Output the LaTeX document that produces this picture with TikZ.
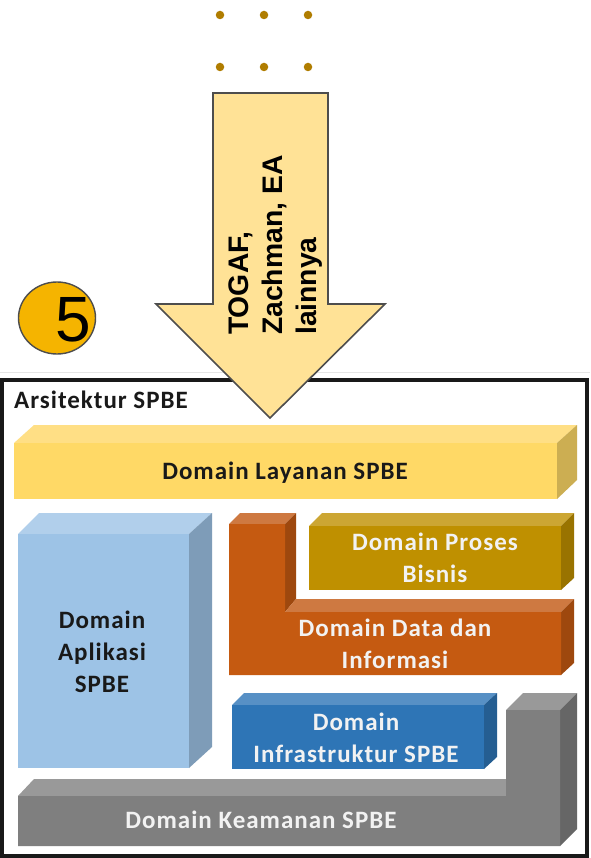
\documentclass[tikz,border=0pt]{standalone}
\usepackage{fontspec}
\usetikzlibrary{shapes.geometric}
\setmainfont{Liberation Sans}
\newfontfamily\calib[LetterSpace=4]{Carlito}
\definecolor{dotc}{HTML}{B07D00}
\definecolor{arrowf}{HTML}{FFE296}
\definecolor{edgec}{HTML}{4D4D4D}
\definecolor{circf}{HTML}{F5B400}
\definecolor{layF}{HTML}{FFD966}\definecolor{layT}{HTML}{FFDF85}\definecolor{layS}{HTML}{CCAE52}
\definecolor{aplF}{HTML}{9DC3E6}\definecolor{aplT}{HTML}{B1CFEB}\definecolor{aplS}{HTML}{7E9CB8}
\definecolor{datF}{HTML}{C55A11}\definecolor{datT}{HTML}{CE7941}\definecolor{datS}{HTML}{9E480E}
\definecolor{proF}{HTML}{BF9000}\definecolor{proT}{HTML}{CCA633}\definecolor{proS}{HTML}{997300}
\definecolor{infF}{HTML}{2E75B6}\definecolor{infT}{HTML}{5790C5}\definecolor{infS}{HTML}{255E92}
\definecolor{keaF}{HTML}{7F7F7F}\definecolor{keaT}{HTML}{999999}\definecolor{keaS}{HTML}{666666}
\tikzset{
  dotmark/.style={circle,fill=dotc,inner sep=0pt,minimum size=8.5pt},
  blocklabel/.style={font=\calib\bfseries\fontsize{25}{32}\selectfont,align=center,inner sep=0pt},
  darktext/.style={blocklabel,text=black!90},
  lighttext/.style={blocklabel,text=white!95!black},
}
\begin{document}
\begin{tikzpicture}[x=1pt,y=-1pt]
\useasboundingbox (0,0) rectangle (590,858);
\fill[white] (0,0) rectangle (590,858);
% dots
\foreach \i/\x in {1/220,2/264,3/308}
  \foreach \j/\y in {1/15,2/67}
    \node[dotmark] (dot\i\j) at (\x,\y) {};
% frame
\draw[black!10,line width=1pt] (0,372) -- (590,372);
\draw[black!90,line width=3.5pt] (2,380) rectangle (587,856);
\node[font=\calib\bfseries\fontsize{25}{28}\selectfont,text=black!90,anchor=west,inner sep=0pt] (title) at (14,400) {Arsitektur SPBE};
% Layanan
\fill[layT] (14,443) -- (34,425) -- (577,425) -- (557,443) -- cycle;
\fill[layS] (557,443) -- (577,425) -- (577,480) -- (557,499) -- cycle;
\fill[layF] (14,443) rectangle (557,499);
\node[darktext] (layanan) at (285,472.5) {Domain Layanan SPBE};
% Aplikasi
\fill[aplT] (18,534) -- (39,513) -- (212,513) -- (189,534) -- cycle;
\fill[aplS] (189,534) -- (212,513) -- (212,747) -- (189,768) -- cycle;
\fill[aplF] (18,534) rectangle (189,768);
\node[darktext] (aplikasi) at (102,652) {Domain\\Aplikasi\\SPBE};
% Data
\fill[datT] (229,524) -- (240,513) -- (296,513) -- (285,524) -- cycle;
\fill[datS] (285,524) -- (296,513) -- (296,599) -- (285,612) -- cycle;
\fill[datT] (285,612) -- (296,599) -- (574,599) -- (561,612) -- cycle;
\fill[datS] (561,612) -- (574,599) -- (574,663) -- (561,675) -- cycle;
\fill[datF] (229,524) -- (285,524) -- (285,612) -- (561,612) -- (561,675) -- (229,675) -- cycle;
\node[lighttext] (data) at (395,644) {Domain Data dan\\Informasi};
% Proses
\fill[proT] (309,526) -- (322,513) -- (574,513) -- (561,526) -- cycle;
\fill[proS] (561,526) -- (574,513) -- (574,578) -- (561,590) -- cycle;
\fill[proF] (309,526) rectangle (561,590);
\node[lighttext] (proses) at (435,558) {Domain Proses\\Bisnis};
% Infrastruktur
\fill[infT] (232,705) -- (244,693) -- (497,693) -- (484,705) -- cycle;
\fill[infS] (484,705) -- (497,693) -- (497,757) -- (484,769) -- cycle;
\fill[infF] (232,705) rectangle (484,769);
\node[lighttext] (infra) at (356,738) {Domain\\Infrastruktur SPBE};
% Keamanan
\fill[keaT] (18,796) -- (34,779) -- (506,779) -- (506,796) -- cycle;
\fill[keaT] (506,710) -- (523,693) -- (577,693) -- (560,710) -- cycle;
\fill[keaS] (560,710) -- (577,693) -- (577,829) -- (560,846) -- cycle;
\fill[keaF] (18,796) -- (506,796) -- (506,710) -- (560,710) -- (560,846) -- (18,846) -- cycle;
\node[lighttext] (keamanan) at (261,820) {Domain Keamanan SPBE};
% arrow
\draw[edgec,line width=1.6pt,fill=arrowf,line join=miter]
  (213,93) -- (328,93) -- (328,304) -- (385,304) -- (270,418) -- (156,304) -- (213,304) -- cycle;
\node[rotate=90,anchor=west,align=left,inner sep=0pt,
  font=\bfseries\fontsize{28.3}{34}\selectfont] (togaf) at (275.5,335) {TOGAF,\\Zachman, EA\\lainnya};
% circle
\node[ellipse,draw=edgec,line width=1.4pt,fill=circf,minimum width=77pt,minimum height=72pt,inner sep=0pt] (circ) at (57,318) {};
\node[font=\fontsize{64}{64}\selectfont,inner sep=0pt] (five) at (73,320) {5};
\end{tikzpicture}
\end{document}
